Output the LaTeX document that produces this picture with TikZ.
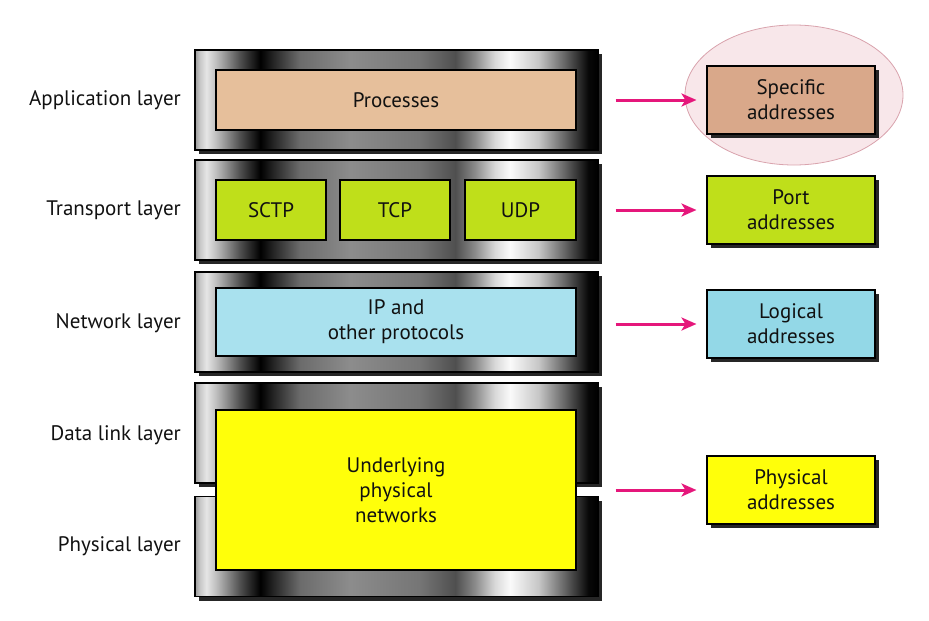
\documentclass[tikz,border=0pt]{standalone}
\usepackage{fontspec}
\setmainfont{PT Sans}
\usetikzlibrary{shapes.geometric,shadows,arrows.meta}
\definecolor{peach}{HTML}{E6BF9B}
\definecolor{peachdark}{HTML}{D9A88A}
\definecolor{lime}{HTML}{BFDF1A}
\definecolor{skyb}{HTML}{A9E1EE}
\definecolor{skybdark}{HTML}{93D8E7}
\definecolor{yel}{HTML}{FFFF0A}
\definecolor{arrmag}{HTML}{E5177B}
\definecolor{ellfill}{HTML}{F8E7EA}
\definecolor{elldraw}{HTML}{D9A3AD}
\definecolor{txt}{HTML}{111111}
\pgfdeclarehorizontalshading{barshade}{100bp}{%
color(0bp)=(white!60!black);
color(25bp)=(white!60!black);
color(25.6bp)=(white!78!black);
color(26.4bp)=(white!90!black);
color(27.6bp)=(white!75!black);
color(30.6bp)=(white!31!black);
color(33.1bp)=(black);
color(34.9bp)=(white!16!black);
color(38bp)=(white!42!black);
color(44.2bp)=(white!55!black);
color(52.9bp)=(white!46!black);
color(57.3bp)=(white!31!black);
color(59.7bp)=(white!54!black);
color(62.2bp)=(white!85!black);
color(64.1bp)=(white!98!black);
color(67.6bp)=(white!78!black);
color(71bp)=(white!38!black);
color(73.8bp)=(white!3!black);
color(75bp)=(black);
color(100bp)=(black)}
\tikzset{
  bar/.style={draw=black, line width=1.3pt, shading=barshade, minimum width=403pt, minimum height=100pt, inner sep=0pt,
    drop shadow={shadow xshift=4pt, shadow yshift=-4pt, fill=black!85, opacity=1}},
  inbox/.style={draw=black, line width=1.1pt, inner sep=0pt, align=center, text=txt,
    font=\fontsize{21}{25}\selectfont},
  addr/.style={draw=black, line width=1.1pt, minimum width=168pt, minimum height=68pt, inner sep=0pt, align=center, text=txt,
    font=\fontsize{21}{25}\selectfont,
    drop shadow={shadow xshift=4pt, shadow yshift=-4pt, fill=black!85, opacity=1}},
  lbl/.style={anchor=east, text=txt, font=\fontsize{21}{24}\selectfont, inner sep=0pt},
  arr/.style={draw=arrmag, line width=3pt, -{Stealth[length=15pt, width=13pt, inset=4pt]}}
}
\begin{document}
\begin{tikzpicture}[x=1pt,y=-1pt]
\useasboundingbox (0,0) rectangle (929,621);
% layer bars
\node[bar] (appbar) at (396.5,100) {};
\node[bar] (trbar) at (396.5,210) {};
\node[bar] (netbar) at (396.5,322) {};
\node[bar] (dlbar) at (396.5,433) {};
\node[bar] (phbar) at (396.5,546.5) {};
% inner boxes
\node[inbox, fill=peach, minimum width=360pt, minimum height=60pt] (proc) at (396,100) {Processes};
\node[inbox, fill=lime, minimum width=110pt, minimum height=60pt] (sctp) at (271,210) {SCTP};
\node[inbox, fill=lime, minimum width=110pt, minimum height=60pt] (tcp) at (395,210) {TCP};
\node[inbox, fill=lime, minimum width=111pt, minimum height=60pt] (udp) at (520.5,210) {UDP};
\node[inbox, fill=skyb, minimum width=360pt, minimum height=68pt] (ip) at (396,322) {IP and\\other protocols};
\node[inbox, fill=yel, minimum width=360pt, minimum height=160pt] (under) at (396,490) {Underlying\\physical\\networks};
% layer labels
\node[lbl] (lapp) at (181,100) {Application layer};
\node[lbl] (ltr) at (181,210) {Transport layer};
\node[lbl] (lnet) at (181,323) {Network layer};
\node[lbl] (ldl) at (181,435) {Data link layer};
\node[lbl] (lph) at (181,546) {Physical layer};
% ellipse
\node[ellipse, fill=ellfill, draw=elldraw, line width=0.8pt, minimum width=218pt, minimum height=140pt] (ell) at (794,95) {};
% address boxes
\node[addr, fill=peachdark] (spec) at (791,100) {Specific\\addresses};
\node[addr, fill=lime] (port) at (791,210) {Port\\addresses};
\node[addr, fill=skybdark] (logi) at (791,324) {Logical\\addresses};
\node[addr, fill=yel] (phys) at (791,490) {Physical\\addresses};
% arrows
\draw[arr] ([xshift=17pt]appbar.east |- spec.west) -- ([xshift=-10pt]spec.west);
\draw[arr] ([xshift=17pt]trbar.east |- port.west) -- ([xshift=-10pt]port.west);
\draw[arr] ([xshift=17pt]netbar.east |- logi.west) -- ([xshift=-10pt]logi.west);
\draw[arr] ([xshift=17pt]dlbar.east |- phys.west) -- ([xshift=-10pt]phys.west);
\end{tikzpicture}
\end{document}
